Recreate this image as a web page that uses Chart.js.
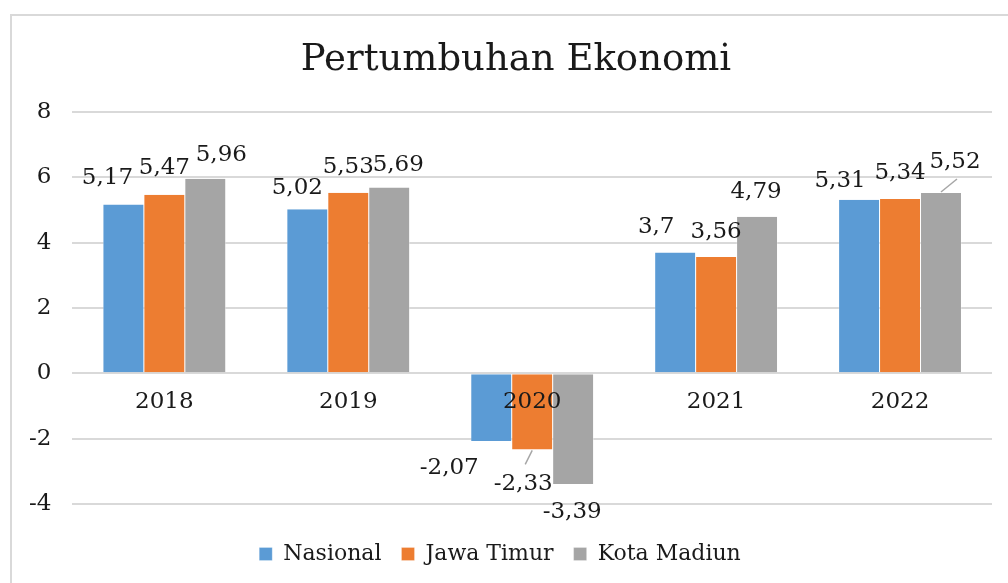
<!DOCTYPE html>
<html>
<head>
<meta charset="utf-8">
<script src="https://cdn.jsdelivr.net/npm/chart.js@4/dist/chart.umd.min.js"></script>
<style>
  html, body { margin: 0; padding: 0; background: #fff; }
  #frame { position: absolute; left: 10px; top: 14px; width: 1100px; height: 700px;
           border-left: 2px solid #d9d9d9; border-top: 2px solid #d9d9d9; }
  #chart { position: absolute; left: 0; top: 0; }
</style>
</head>
<body>
<div id="frame"></div>
<canvas id="chart" width="1008" height="583"></canvas>
<script>
const chartTitle = 'Pertumbuhan Ekonomi';
const years = ['2018', '2019', '2020', '2021', '2022'];
const nasional = [5.17, 5.02, -2.07, 3.7, 5.31];
const jawaTimur = [5.47, 5.53, -2.33, 3.56, 5.34];
const kotaMadiun = [5.96, 5.69, -3.39, 4.79, 5.52];
const yTicks = [8, 6, 4, 2, 0, -2, -4];

const FONT = "'DejaVu Serif', serif";
const TEXT = '#1a1a1a';

// labels moved by hand in the original sheet: "dataset-index": [dx, dy, leader line]
const labelNudge = {
    '0-0': [-16, 0], '1-0': [0, -1], '2-0': [16, 2],
    '0-1': [-10, 5], '2-1': [9, 4],
    '0-2': [-42, -1], '1-2': [-9, 7, true], '2-2': [-1, 0],
    '0-3': [-19, 1], '1-3': [0, 1], '2-3': [-1, 1],
    '0-4': [-19, 7], '2-4': [14, -5, true]
};

const overlayText = {
    id: 'overlayText',
    afterDatasetsDraw(chart) {
        const ctx = chart.ctx;
        const yScale = chart.scales.y;
        const xScale = chart.scales.x;
        ctx.save();
        ctx.textAlign = 'center';
        ctx.textBaseline = 'middle';
        ctx.fillStyle = TEXT;

        // title (the frame is a bit wider than the window, so it sits right of the legend centre)
        ctx.font = '37px ' + FONT;
        ctx.fillText(chartTitle, 516, 60);

        ctx.font = '23px ' + FONT;
        // category names sit just under the zero line, on top of the bars
        const zeroY = yScale.getPixelForValue(0);
        years.forEach((yr, i) => {
            ctx.fillText(yr, xScale.getPixelForValue(i), zeroY + 29);
        });

        // value labels
        chart.data.datasets.forEach((ds, di) => {
            chart.getDatasetMeta(di).data.forEach((bar, i) => {
                const v = ds.data[i];
                const n = labelNudge[di + '-' + i] || [0, 0];
                const x = bar.x + n[0];
                const y = bar.y + (v >= 0 ? -26 : 28) + n[1];
                if (n[2]) {
                    ctx.strokeStyle = '#a6a6a6';
                    ctx.lineWidth = 1.5;
                    ctx.beginPath();
                    ctx.moveTo(bar.x, bar.y + (v >= 0 ? -1 : 1));
                    ctx.lineTo(x + 2, y + (v >= 0 ? 17 : -20));
                    ctx.stroke();
                }
                ctx.fillText(String(v).replace('.', ','), x, y);
            });
        });
        ctx.restore();
    }
};

new Chart(document.getElementById('chart'), {
    type: 'bar',
    data: {
        labels: years,
        datasets: [
            { label: 'Nasional', data: nasional, backgroundColor: '#5b9bd5' },
            { label: 'Jawa Timur', data: jawaTimur, backgroundColor: '#ed7d31' },
            { label: 'Kota Madiun', data: kotaMadiun, backgroundColor: '#a5a5a5' }
        ]
    },
    options: {
        responsive: false,
        animation: false,
        layout: { padding: { left: 8, right: 16, top: 112, bottom: 8 } },
        datasets: {
            bar: {
                categoryPercentage: 0.668,
                barPercentage: 1,
                borderColor: '#ffffff',
                borderWidth: { left: 0.5, right: 0.5, top: 0, bottom: 0 }
            }
        },
        plugins: {
            title: { display: false },
            legend: {
                position: 'bottom',
                labels: {
                    color: TEXT,
                    font: { family: FONT, size: 22 },
                    boxWidth: 13,
                    boxHeight: 13,
                    padding: 20
                }
            },
            tooltip: { enabled: false }
        },
        scales: {
            x: {
                grid: { display: false },
                border: { display: false },
                ticks: { display: false },
                afterFit: axis => { axis.height = 19; }
            },
            y: {
                min: -4,
                max: 8,
                afterBuildTicks: axis => { axis.ticks = yTicks.map(v => ({ value: v })); },
                grid: { color: '#d9d9d9', lineWidth: 2, drawTicks: false },
                border: { display: false },
                ticks: { color: TEXT, font: { family: FONT, size: 23 }, padding: 21 }
            }
        }
    },
    plugins: [overlayText]
});
</script>
</body>
</html>
